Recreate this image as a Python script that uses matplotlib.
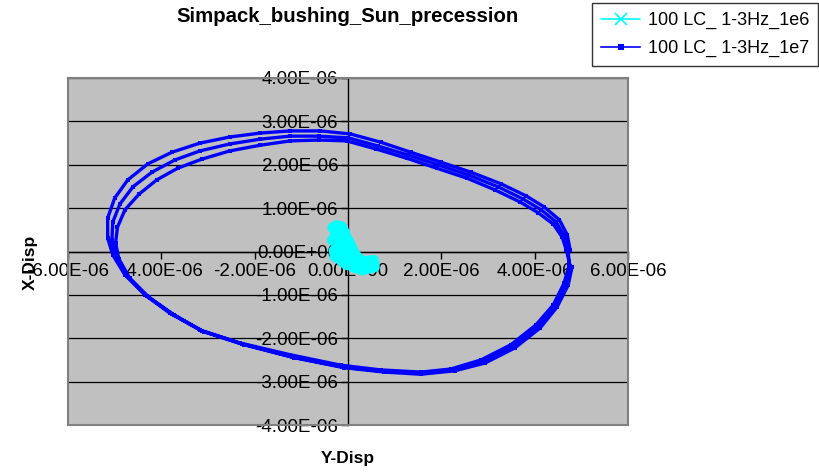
import matplotlib
matplotlib.use("Agg")
import matplotlib.pyplot as plt
from matplotlib.patches import Rectangle

plt.rcParams['font.family'] = ['Liberation Sans', 'DejaVu Sans']

# Data in units of 1e-6
# series "1e7": three precessing loops
y_disp_1e7 = [
    4.76, 4.70, 4.53, 4.20, 3.82, 3.28, 2.63, 1.99, 1.34, 0.70, 0.05, -0.59, -1.24, -1.88, -2.53, -3.17,
    -3.77, -4.29, -4.72, -5.00, -5.15, -5.15, -5.04, -4.78, -4.35, -3.82, -3.17, -2.31, -1.24, -0.16,
    0.70, 1.56, 2.20, 2.85, 3.49, 4.03, 4.40, 4.63, 4.74,
    4.72, 4.63, 4.46, 4.14, 3.75, 3.22, 2.59, 1.95, 1.30, 0.65, 0.01, -0.63, -1.24, -1.88, -2.53, -3.17,
    -3.71, -4.20, -4.61, -4.89, -5.04, -5.06, -4.98, -4.74, -4.31, -3.77, -3.13, -2.27, -1.19, -0.12,
    0.74, 1.56, 2.25, 2.89, 3.54, 4.08, 4.44, 4.68, 4.76,
    4.68, 4.59, 4.40, 4.08, 3.69, 3.15, 2.55, 1.90, 1.26, 0.61, -0.03, -0.63, -1.24, -1.88, -2.53, -3.13,
    -3.65, -4.10, -4.48, -4.78, -4.94, -4.98, -4.91, -4.68, -4.27, -3.73, -3.09, -2.23, -1.15, -0.08,
    0.78, 1.56, 2.29, 2.94, 3.58, 4.12, 4.48, 4.72, 4.80,
]
x_disp_1e7 = [
    0.03, 0.38, 0.73, 1.03, 1.28, 1.56, 1.83, 2.06, 2.29, 2.52, 2.71, 2.78, 2.78, 2.73, 2.64, 2.50,
    2.29, 2.02, 1.65, 1.23, 0.77, 0.31, -0.08, -0.54, -1.00, -1.42, -1.81, -2.11, -2.38, -2.62,
    -2.73, -2.78, -2.71, -2.50, -2.15, -1.69, -1.23, -0.73, -0.31,
    0.03, 0.36, 0.68, 0.96, 1.21, 1.49, 1.76, 1.99, 2.22, 2.43, 2.62, 2.66, 2.66, 2.59, 2.48, 2.32,
    2.11, 1.83, 1.49, 1.09, 0.68, 0.26, -0.13, -0.56, -1.03, -1.44, -1.83, -2.13, -2.43, -2.66,
    -2.76, -2.80, -2.73, -2.54, -2.20, -1.73, -1.25, -0.75, -0.33,
    0.03, 0.33, 0.63, 0.89, 1.14, 1.42, 1.69, 1.92, 2.15, 2.36, 2.55, 2.57, 2.55, 2.45, 2.32, 2.13,
    1.92, 1.65, 1.32, 0.96, 0.56, 0.20, -0.17, -0.61, -1.05, -1.46, -1.85, -2.15, -2.45, -2.68,
    -2.78, -2.83, -2.75, -2.57, -2.22, -1.76, -1.28, -0.77, -0.36,
]
# series "1e6": small blob near origin
y_disp_1e6 = [-0.33, -0.25, -0.14, -0.06, -0.25, -0.34, -0.08, 0.05, -0.30, -0.28, 0.01, 0.18,
              -0.14, -0.03, 0.27, 0.55, 0.57, 0.31, 0.10, 0.40, 0.16, 0.01, -0.16, -0.28, -0.20,
              0.20, 0.45, 0.35]
x_disp_1e6 = [0.55, 0.60, 0.58, 0.42, 0.36, 0.26, 0.22, 0.10, 0.03, -0.13, -0.06, -0.15,
              -0.22, -0.31, -0.24, -0.20, -0.36, -0.43, -0.36, -0.31, -0.08, 0.26, 0.48, 0.40, 0.15,
              -0.28, -0.38, -0.25]

x_ticks = [-6, -4, -2, 0, 2, 4, 6]
y_ticks = [-4, -3, -2, -1, 0, 1, 2, 3, 4]
label_1e6 = "100 LC_ 1-3Hz_1e6"
label_1e7 = "100 LC_ 1-3Hz_1e7"
title = "Simpack_bushing_Sun_precession"

S = 1e-6

fig = plt.figure(figsize=(8.2, 4.72), dpi=100)
ax = fig.add_axes([68/820, 1-425/472, (628-68)/820, (425-78)/472])
ax.set_facecolor('#C0C0C0')

ax.set_xlim(-6*S, 6*S)
ax.set_ylim(-4*S, 4*S)

for yt in y_ticks:
    ax.axhline(yt*S, color='black', lw=0.9, zorder=1)

l1, = ax.plot([v*S for v in y_disp_1e6], [v*S for v in x_disp_1e6], color='#00FFFF', lw=7.5,
              solid_joinstyle='round', solid_capstyle='round', marker='x', ms=3.5, mew=1, zorder=3,
              label=label_1e6)
l2, = ax.plot([v*S for v in y_disp_1e7], [v*S for v in x_disp_1e7], color='#0000FF', lw=2.4,
              marker='s', ms=3.2, mew=0, zorder=4, label=label_1e7)

ax.spines['left'].set_position(('data', 0))
ax.spines['bottom'].set_position(('data', 0))
ax.spines['top'].set_visible(False)
ax.spines['right'].set_visible(False)
for s in ('left', 'bottom'):
    ax.spines[s].set_color('black')
    ax.spines[s].set_linewidth(1)
    ax.spines[s].set_zorder(2)

ax.add_patch(Rectangle((0, 0), 1, 1, transform=ax.transAxes, fill=False,
                       edgecolor='#808080', lw=1.5, zorder=5, clip_on=False))


def fmt(t):
    if t == 0:
        return "0.00E+00"
    return f"{t:.2f}E-06"


ax.set_xticks([t*S for t in x_ticks])
ax.set_xticklabels([fmt(t) for t in x_ticks])
ax.set_yticks([t*S for t in y_ticks])
ax.set_yticklabels([fmt(t) for t in y_ticks])

ax.tick_params(axis='both', direction='out', length=5, width=1, color='black',
               labelsize=13.5, pad=2)
ax.tick_params(axis='x', pad=3)
for lab in ax.get_xticklabels() + ax.get_yticklabels():
    lab.set_zorder(6)

fig.text(348/820, 1-17/472, title, ha='center', va='center', fontsize=14.7, fontweight='bold')
fig.text(30/820, 1-262/472, "X-Disp", ha='center', va='center', rotation=90, fontsize=12.5,
         fontweight='bold')
fig.text(348/820, 1-459/472, "Y-Disp", ha='center', va='center', fontsize=12.5, fontweight='bold')

leg = fig.legend(handles=[l1, l2], loc='upper right', bbox_to_anchor=(818/820, 1-3/472),
                 frameon=True, fancybox=False, edgecolor='black', fontsize=13,
                 handlelength=2.2, borderpad=0.5, labelspacing=0.6, handletextpad=0.4,
                 borderaxespad=0)
leg.get_frame().set_linewidth(1)
hs = leg.legend_handles
hs[0].set_linewidth(1.2)
hs[0].set_markersize(8)
hs[0].set_markeredgewidth(1.2)
hs[1].set_linewidth(1.2)
hs[1].set_markersize(4)

fig.savefig('out.png', dpi=100)
